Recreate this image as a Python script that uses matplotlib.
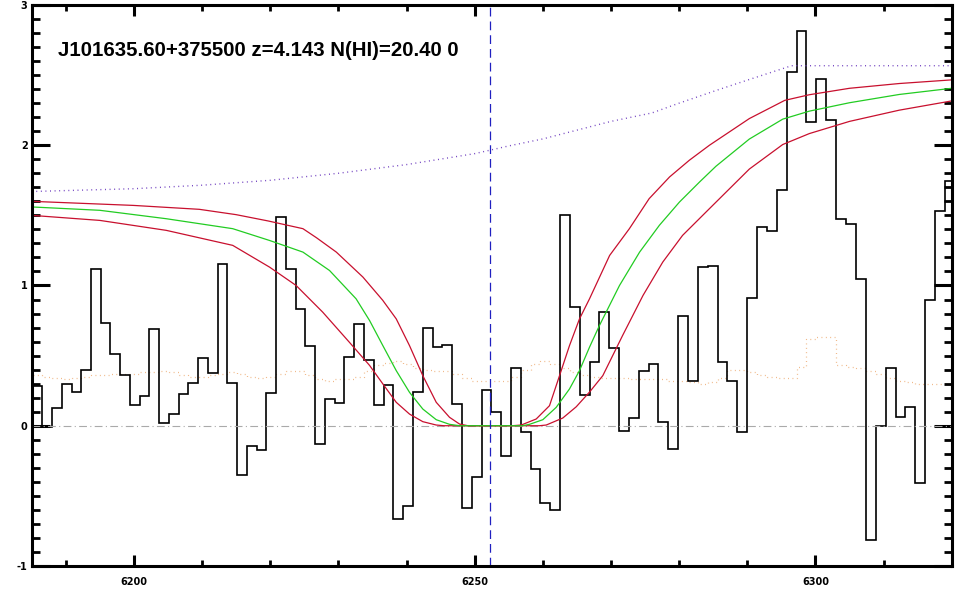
import numpy as np
import matplotlib
matplotlib.use('Agg')
import matplotlib.pyplot as plt

plt.rcParams['axes.unicode_minus'] = False

# spectrum, one value per pixel (log-lambda grid, 1e-4 dex)
loglam0 = 3.79135
dloglam = 1e-4
flux = [0.281, -0.012, 0.126, 0.295, 0.238, 0.398, 1.115, 0.733, 0.510, 0.36,
        0.146, 0.21, 0.69, 0.021, 0.086, 0.229, 0.307, 0.486, 0.379, 1.15,
        0.305, -0.354, -0.143, -0.171, 0.231, 1.489, 1.114, 0.834, 0.567, -0.133,
        0.191, 0.16, 0.488, 0.726, 0.471, 0.146, 0.289, -0.662, -0.569, 0.238,
        0.696, 0.56, 0.574, 0.153, -0.59, -0.369, 0.253, 0.1, -0.219, 0.41,
        -0.048, -0.305, -0.548, -0.6, 1.5, 0.848, 0.217, 0.453, 0.81, 0.553,
        -0.036, 0.053, 0.389, 0.443, 0.024, -0.169, 0.781, 0.317, 1.131, 1.139,
        0.453, 0.317, -0.048, 0.908, 1.415, 1.389, 1.679, 2.52, 2.815, 2.165,
        2.47, 2.18, 1.474, 1.439, 1.048, -0.816, 0.0, 0.412, 0.06, 0.136,
        -0.409, 0.896, 1.532, 1.742]
err = [0.36, 0.35, 0.34, 0.33, 0.34, 0.35, 0.36, 0.36, 0.37, 0.37,
       0.37, 0.38, 0.38, 0.39, 0.38, 0.36, 0.35, 0.35, 0.36, 0.37,
       0.38, 0.37, 0.35, 0.34, 0.35, 0.37, 0.39, 0.39, 0.36, 0.33,
       0.32, 0.33, 0.33, 0.35, 0.39, 0.43, 0.45, 0.46, 0.44, 0.41,
       0.40, 0.39, 0.39, 0.37, 0.34, 0.32, 0.32, 0.32, 0.32, 0.35,
       0.40, 0.44, 0.46, 0.44, 0.41, 0.38, 0.36, 0.35, 0.34, 0.34,
       0.34, 0.33, 0.33, 0.33, 0.33, 0.32, 0.32, 0.31, 0.30, 0.31,
       0.34, 0.40, 0.40, 0.38, 0.36, 0.35, 0.34, 0.34, 0.42, 0.62,
       0.63, 0.63, 0.43, 0.42, 0.41, 0.39, 0.37, 0.34, 0.32, 0.31,
       0.30, 0.30, 0.30, 0.30]

# continuum (purple dotted)
cont_wave = [6185, 6200, 6210, 6220, 6230, 6240, 6250, 6255, 6260, 6270,
             6276, 6280, 6285.4, 6290, 6296.5, 6320]
cont_flux = [1.67, 1.69, 1.715, 1.75, 1.80, 1.862, 1.94, 1.995, 2.045, 2.17,
             2.23, 2.30, 2.39, 2.464, 2.567, 2.567]

# DLA model, best fit (green) and +/- (red)
fit_wave = [6185.0, 6195.0, 6204.75, 6214.5, 6219.9, 6224.8, 6228.7, 6232.6,
            6234.58, 6236.53, 6238.49, 6240.44, 6242.39, 6244.36, 6246.31, 6247.8,
            6257.0, 6258.05, 6260.0, 6261.96, 6263.91, 6265.38, 6266.85, 6268.3,
            6271.25, 6274.2, 6277.1, 6280.05, 6283.0, 6285.4, 6290.3, 6295.2,
            6299.1, 6305.0, 6312.3, 6320.0]
fit_flux = [1.56, 1.536, 1.476, 1.405, 1.321, 1.238, 1.107, 0.905,
            0.75, 0.571, 0.393, 0.238, 0.119, 0.043, 0.01, 0.0,
            0.0, 0.01, 0.043, 0.131, 0.262, 0.393, 0.56, 0.714,
            1.0, 1.238, 1.429, 1.595, 1.738, 1.85, 2.044, 2.186,
            2.243, 2.303, 2.362, 2.406]
hi_wave = [6185.0, 6199.9, 6209.6, 6215.0, 6219.7, 6224.8, 6226.8, 6229.7,
           6233.6, 6236.5, 6238.49, 6240.44, 6242.39, 6244.36, 6246.31, 6247.78,
           6249.0, 6255.5, 6256.83, 6259.03, 6260.98, 6262.45, 6263.91, 6265.38,
           6266.85, 6269.8, 6272.7, 6275.6, 6278.6, 6281.5, 6284.45, 6290.3,
           6295.5, 6299.1, 6305.0, 6312.3, 6320.0]
hi_flux = [1.60, 1.571, 1.543, 1.505, 1.46, 1.405, 1.34, 1.238,
           1.06, 0.895, 0.762, 0.571, 0.357, 0.167, 0.06, 0.012,
           0.0, 0.0, 0.005, 0.048, 0.143, 0.357, 0.571, 0.762,
           0.905, 1.214, 1.405, 1.619, 1.774, 1.893, 2.0, 2.19,
           2.32, 2.36, 2.406, 2.44, 2.466]
lo_wave = [6185.0, 6195.0, 6204.75, 6214.5, 6219.9, 6223.8, 6227.7, 6231.6,
           6234.58, 6236.53, 6238.49, 6240.44, 6242.39, 6244.36, 6245.5, 6259.5,
           6260.5, 6262.93, 6264.9, 6266.85, 6268.8, 6271.7, 6274.7, 6277.6,
           6280.5, 6284.45, 6290.3, 6295.2, 6299.1, 6305.0, 6312.3, 6320.0]
lo_flux = [1.50, 1.464, 1.393, 1.286, 1.131, 1.0, 0.81, 0.596,
           0.43, 0.298, 0.167, 0.083, 0.029, 0.005, 0.0, 0.0,
           0.005, 0.055, 0.135, 0.24, 0.357, 0.643, 0.929, 1.167,
           1.357, 1.548, 1.83, 2.005, 2.083, 2.17, 2.25, 2.316]

lya_wave = 6252.2
title = 'J101635.60+375500 z=4.143 N(HI)=20.40 0'

edges = 10 ** (loglam0 + dloglam * np.arange(len(flux) + 1))

fig = plt.figure(figsize=(9.6, 6), dpi=100)
ax = fig.add_axes([0.033, 0.0567, 0.9584, 0.935])

ax.axhline(0, color='#aaaaaa', lw=0.8, dashes=(7, 3, 1, 3))
ax.stairs(err, edges, baseline=None, color='#eeb07a', lw=0.9,
          linestyle=(0, (0.7, 2.8)))
ax.stairs(flux, edges, baseline=None, color='black', lw=1.2)
ax.plot(cont_wave, cont_flux, color='#7040c0', lw=1.0, dashes=(0.7, 2.6))
ax.plot(hi_wave, hi_flux, color='#c8102e', lw=0.9)
ax.plot(lo_wave, lo_flux, color='#c8102e', lw=0.9)
ax.plot(fit_wave, fit_flux, color='#22cc22', lw=0.9)
ax.axvline(lya_wave, color='#2020c0', lw=0.9, dashes=(7, 4))

ax.set_xlim(6185, 6320)
ax.set_ylim(-1, 3)
ax.set_xticks([6200, 6250, 6300])
ax.set_xticks(np.arange(6190, 6321, 10), minor=True)
ax.set_yticks([-1, 0, 1, 2, 3])
ax.set_yticks(np.arange(-1, 3.01, 0.1), minor=True)

for s in ax.spines.values():
    s.set_linewidth(2.2)
ax.tick_params(which='both', direction='in', top=True, right=True, colors='black')
ax.tick_params(axis='x', which='major', length=8, width=2.2, pad=8, labelsize=7)
ax.tick_params(axis='x', which='minor', length=4, width=2.0)
ax.tick_params(axis='y', which='major', length=13, width=2.2, pad=3, labelsize=7)
ax.tick_params(axis='y', which='minor', length=6, width=2.0)
for lab in ax.get_xticklabels() + ax.get_yticklabels():
    lab.set_fontweight('bold')

ax.text(0.029, 0.909, title, transform=ax.transAxes, fontsize=14.7,
        fontweight='bold', family='Liberation Sans', va='baseline', ha='left')

fig.savefig('out.png', dpi=100)
